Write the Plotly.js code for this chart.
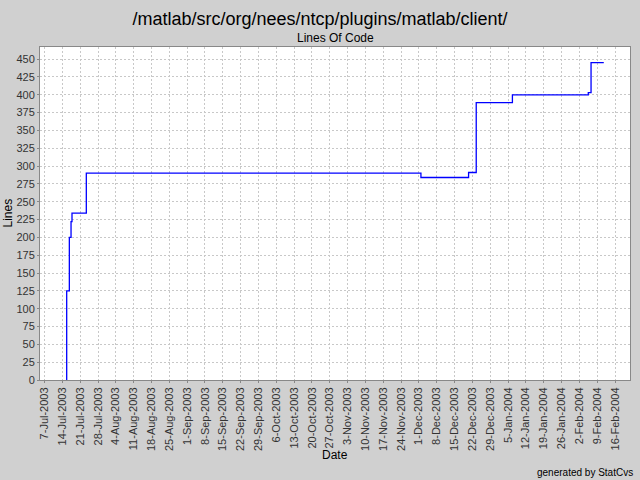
<!DOCTYPE html>
<html>
<head>
<meta charset="utf-8">
<script src="https://cdn.plot.ly/plotly-3.0.1.min.js"></script>
<style>html,body{margin:0;padding:0;background:#d0d0d0;}#chart{width:640px;height:480px;}</style>
</head>
<body>
<div id="chart"></div>
<script>
// Data (step chart of lines of code over time)
const dates = [
  '2003-07-15 17:00', '2003-07-15 17:00', '2003-07-16 18:00', '2003-07-17 10:00',
  '2003-07-17 19:00', '2003-07-23 10:00', '2003-12-01 19:00', '2003-12-20 12:00',
  '2003-12-23 12:00', '2004-01-06 17:00', '2004-02-05 12:00', '2004-02-06 14:00',
  '2004-02-11 14:00'
];
const lines = [0, 125, 200, 222, 234, 290, 284, 291, 389, 400, 403, 445, 445];

const chartTitle = '/matlab/src/org/nees/ntcp/plugins/matlab/client/';
const subTitle = 'Lines Of Code';
const xTitle = 'Date';
const yTitle = 'Lines';
const footer = 'generated by StatCvs';

const font = 'Liberation Sans, Arial, sans-serif';

const trace = {
  x: dates, y: lines, type: 'scatter', mode: 'lines',
  line: {shape: 'hv', color: '#0000ff', width: 1.3},
  hoverinfo: 'none'
};

const layout = {
  width: 640, height: 480,
  paper_bgcolor: '#d0d0d0', plot_bgcolor: '#ffffff',
  margin: {l: 40, r: 10, t: 47, b: 100},
  showlegend: false,
  font: {family: font, color: '#000'},
  title: {text: chartTitle, font: {family: font, size: 18, color: '#000'}, x: 0.5, xanchor: 'center', y: 0.962, yanchor: 'middle'},
  xaxis: {
    type: 'date',
    range: ['2003-07-05 05:30', '2004-02-21 21:00'],
    tick0: '2003-07-07', dtick: 604800000,
    tickformat: '%-d-%b-%Y', tickangle: -90,
    tickfont: {family: font, size: 11, color: '#333'},
    showgrid: true, gridcolor: '#c8c8c8', griddash: '2px,2px', gridwidth: 1,
    ticks: 'outside', ticklen: 2, tickcolor: '#888',
    showline: true, linecolor: '#888', linewidth: 1, mirror: true,
    zeroline: false, fixedrange: true
  },
  yaxis: {
    range: [0, 467],
    tick0: 0, dtick: 25,
    tickfont: {family: font, size: 11, color: '#333'},
    showgrid: true, gridcolor: '#c8c8c8', griddash: '2px,2px', gridwidth: 1,
    ticks: 'outside', ticklen: 2, tickcolor: '#888',
    showline: true, linecolor: '#888', linewidth: 1, mirror: true,
    zeroline: false, fixedrange: true
  },
  annotations: [
    {text: subTitle, xref: 'paper', yref: 'paper', x: 0.5, y: 1, yshift: 9, xanchor: 'center', yanchor: 'middle', showarrow: false, font: {family: font, size: 12, color: '#000'}},
    {text: yTitle, xref: 'paper', yref: 'paper', x: 0, xshift: -33, y: 0.5, textangle: -90, xanchor: 'center', yanchor: 'middle', showarrow: false, font: {family: font, size: 12, color: '#000'}},
    {text: xTitle, xref: 'paper', yref: 'paper', x: 0.5, y: 0, yshift: -75, xanchor: 'center', yanchor: 'middle', showarrow: false, font: {family: font, size: 12, color: '#000'}},
    {text: footer, xref: 'paper', yref: 'paper', x: 1, xshift: 5, y: 0, yshift: -92, xanchor: 'right', yanchor: 'middle', showarrow: false, font: {family: font, size: 10, color: '#000'}}
  ]
};

Plotly.newPlot('chart', [trace], layout, {displayModeBar: false, staticPlot: true});
</script>
</body>
</html>
